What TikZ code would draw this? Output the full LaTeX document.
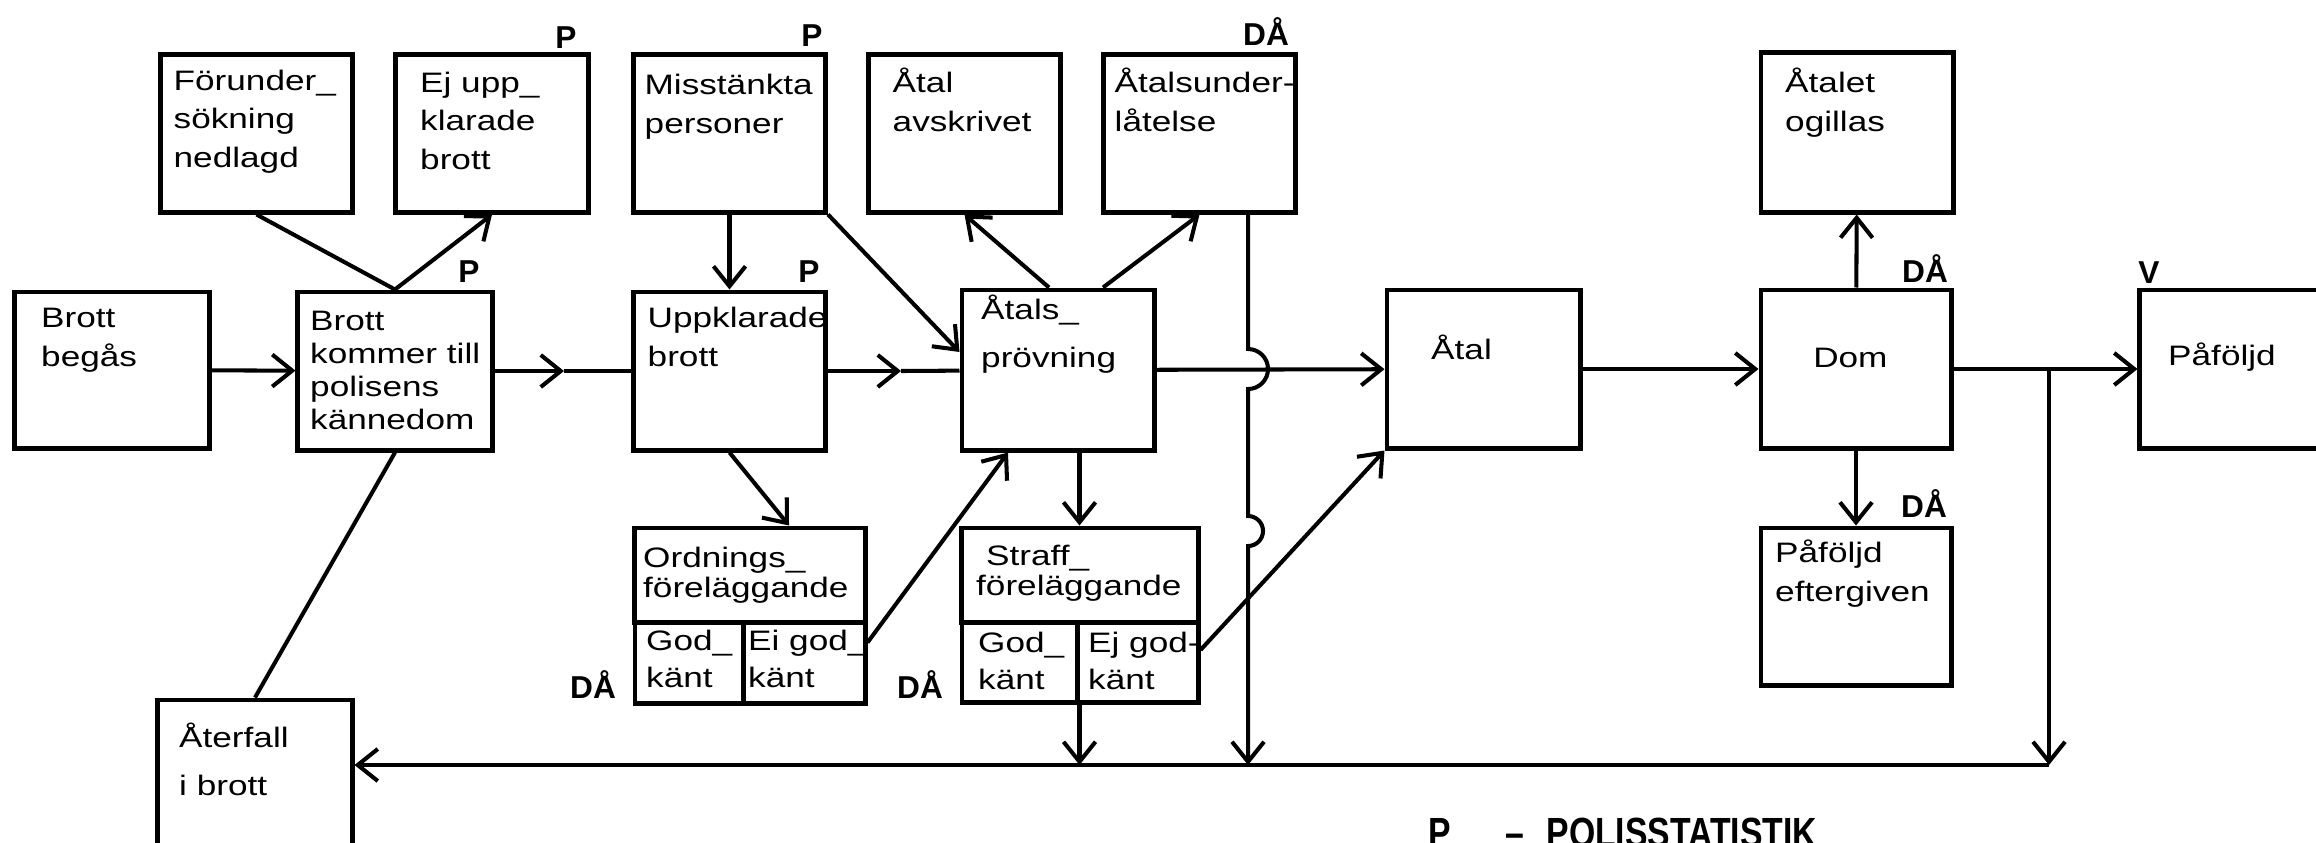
\documentclass[tikz,border=0pt]{standalone}
\usepackage{fontspec}
\setmainfont{Liberation Sans}[FakeStretch=1.25]
\newfontfamily\markfont{Liberation Sans}
\newfontfamily\legfont{Liberation Sans}[FakeStretch=0.8]
\usetikzlibrary{arrows.meta}

\begin{document}
\begin{tikzpicture}[
  x=0.01cm, y=-0.01cm,
  box/.style={draw,line width=1.4pt,minimum width=1.92cm,minimum height=1.57cm,inner sep=0pt},
  txt/.style={anchor=base west,align=left,inner sep=0pt,font=\fontsize{8}{11}\selectfont},
  stat/.style={inner sep=0pt,font=\markfont\bfseries\fontsize{9}{9}\selectfont},
  legend/.style={anchor=base west,inner sep=0pt,font=\legfont\bfseries\fontsize{12}{12}\selectfont},
  conn/.style={line width=1.15pt},
  arr/.style={conn,-{Straight Barb[length=2mm,width=3.2mm]}}
]
\useasboundingbox (0,0) rectangle (2316,842);

% upper row
\node[box,label={[txt,xshift=0.15cm,yshift=-1.15cm]north west:{Förunder\_\\sökning\\nedlagd}}] (forunder) at (256.5,133.5) {};
\node[box,label={[txt,xshift=0.26cm,yshift=-1.17cm]north west:{Ej upp\_\\klarade\\brott}}] (ejuppkl) at (492,133.5) {};
\node[box,label={[txt,xshift=0.13cm,yshift=-0.81cm]north west:{Misstänkta\\personer}}] (misstankta) at (729.5,133.5) {};
\node[box,label={[txt,xshift=0.26cm,yshift=-0.79cm]north west:{Åtal\\avskrivet}}] (avskrivet) at (964.5,133.5) {};
\node[box,label={[txt,xshift=0.13cm,yshift=-0.79cm]north west:{Åtalsunder-\\låtelse}}] (underlatelse) at (1199.5,133.5) {};
\node[box,minimum height=1.59cm,label={[txt,xshift=0.26cm,yshift=-0.81cm]north west:{Åtalet\\ogillas}}] (ogillas) at (1857,132.5) {};

% main row
\node[box,minimum width=1.94cm,minimum height=1.56cm,label={[txt,xshift=0.28cm,yshift=-0.77cm]north west:{Brott\\begås}}] (begas) at (112,370) {};
\node[box,minimum width=1.94cm,minimum height=1.58cm,label={[txt,font=\fontsize{8}{9.4}\selectfont,xshift=0.14cm,yshift=-1.40cm]north west:{Brott\\kommer till\\polisens\\kännedom}}] (kannedom) at (395,371) {};
\node[box,minimum height=1.58cm,label={[txt,xshift=0.16cm,yshift=-0.77cm]north west:{Uppklarade\\brott}}] (uppklarade) at (729.5,371) {};
\node[box,minimum height=1.60cm,label={[txt,font=\fontsize{8}{13.6}\selectfont,xshift=0.21cm,yshift=-0.80cm]north west:{Åtals\_\\prövning}}] (provning) at (1058,370) {};
\node[box,minimum width=1.93cm,minimum height=1.58cm,label={[txt,xshift=0.46cm,yshift=-0.72cm]north west:Åtal}] (atal) at (1483.5,369) {};
\node[box,minimum width=1.90cm,minimum height=1.58cm,label={[txt,xshift=0.54cm,yshift=-0.80cm]north west:Dom}] (dom) at (1856,369) {};
\node[box,minimum width=2.80cm,minimum height=1.58cm,label={[txt,xshift=0.30cm,yshift=-0.78cm]north west:Påföljd}] (pafoljd) at (2280,369) {};

% lower row
\node[box,minimum width=2.30cm,minimum height=0.94cm,label={[txt,font=\fontsize{8}{8.5}\selectfont,xshift=0.10cm,yshift=-0.72cm]north west:{Ordnings\_\\föreläggande}}] (ordn) at (750,575) {};
\node[box,minimum width=1.08cm,minimum height=0.81cm,label={[txt,font=\fontsize{8}{10.5}\selectfont,xshift=0.13cm,yshift=-0.68cm]north west:{God\_\\känt}}] (ordngod) at (689,662.5) {};
\node[box,minimum width=1.22cm,minimum height=0.81cm,label={[txt,font=\fontsize{8}{10.5}\selectfont,xshift=0.07cm,yshift=-0.68cm]north west:{Ei god\_\\känt}}] (ordnej) at (804,662.5) {};
\node[box,minimum width=2.36cm,minimum height=0.94cm,label={[txt,font=\fontsize{8}{8.5}\selectfont,xshift=0.16cm,yshift=-0.70cm]north west:{\hspace*{0.1cm}Straff\_\\föreläggande}}] (straff) at (1080,575) {};
\node[box,minimum width=1.15cm,minimum height=0.80cm,label={[txt,font=\fontsize{8}{10.5}\selectfont,xshift=0.18cm,yshift=-0.70cm]north west:{God\_\\känt}}] (straffgod) at (1019.5,662) {};
\node[box,minimum width=1.21cm,minimum height=0.80cm,label={[txt,font=\fontsize{8}{10.5}\selectfont,xshift=0.13cm,yshift=-0.70cm]north west:{Ej god-\\känt}}] (straffej) at (1137.5,662) {};
\node[box,minimum width=1.90cm,label={[txt,xshift=0.16cm,yshift=-0.76cm]north west:{Påföljd\\eftergiven}}] (eftergiven) at (1856,606.5) {};
\node[box,minimum width=1.94cm,minimum height=1.70cm,label={[txt,font=\fontsize{8}{13.6}\selectfont,xshift=0.23cm,yshift=-0.98cm]north west:{Återfall\\i brott}}] (aterfall) at (255,785) {};

% statistics marks
\node[stat] (p1) at (566,38) {P};
\node[stat] (p2) at (469,272) {P};
\node[stat] (p3) at (812,36) {P};
\node[stat] (p4) at (809,272) {P};
\node[stat] (da1) at (1266,32) {DÅ};
\node[stat] (da2) at (1925,269) {DÅ};
\node[stat] (v1) at (2149,273) {V};
\node[stat] (da3) at (1924,504) {DÅ};
\node[stat] (da4) at (593,685) {DÅ};
\node[stat] (da5) at (920,685) {DÅ};

% legend (cut by the page edge)
\node[legend] (legp) at (1428,847) {P};
\node[legend] (legtxt) at (1505,847) {–\hspace{0.22cm}POLISSTATISTIK};

% helper points
\coordinate (m1) at (564,371);
\coordinate (m2) at (901,371);
\coordinate (ret) at (2049,765);
\coordinate (ulow) at ([xshift=0.485cm]underlatelse.south);
\coordinate (hopa) at (1248,349);
\coordinate (hopb) at (1248,516);

% connectors
\draw[arr] (begas) -- (kannedom);
\draw[arr] (kannedom) -- (m1);
\draw[conn] (m1) -- (uppklarade);
\draw[arr] (uppklarade) -- (m2);
\draw[conn] (m2) -- (provning);
\draw[conn] (kannedom.north) -- (forunder.south);
\draw[arr] (kannedom.north) -- (ejuppkl.south);
\draw[arr] (misstankta) -- (uppklarade);
\draw[arr] (misstankta.south east) -- ([yshift=0.18cm]provning.west);
\draw[arr] ([xshift=-0.09cm]provning.north) -- (avskrivet.south);
\draw[arr] ([xshift=0.45cm]provning.north) -- (underlatelse.south);
\draw[arr] (provning) -- (atal);
\draw[arr] (atal) -- (dom);
\draw[arr] (dom) -- (pafoljd);
\draw[arr] (dom) -- (ogillas);
\draw[arr] (dom) -- (eftergiven);
\draw[arr] (uppklarade.south) -- ([xshift=0.39cm]ordn.north);
\draw[arr] ([yshift=0.2cm]ordnej.east) -- ([xshift=-0.5cm]provning.south);
\draw[arr] (provning.south -| straffgod.east) -- (straff.north -| straffgod.east);
\draw[arr] (straffgod.south east) -- (straffgod.south east |- ret);
\draw[arr] ([yshift=0.12cm]straffej.east) -- (atal.south west);
\draw[arr] (ulow) -- (hopa) arc[start angle=90,end angle=-90,radius=0.2cm]
  -- (hopb) arc[start angle=90,end angle=-90,radius=0.15cm] -- (ulow |- ret);
\draw[arr] (dom.east -| ret) -- (ret);
\draw[arr] (ret) -- (ret -| aterfall.east);
\draw[conn] (aterfall.north) -- (kannedom.south);
\end{tikzpicture}
\end{document}
